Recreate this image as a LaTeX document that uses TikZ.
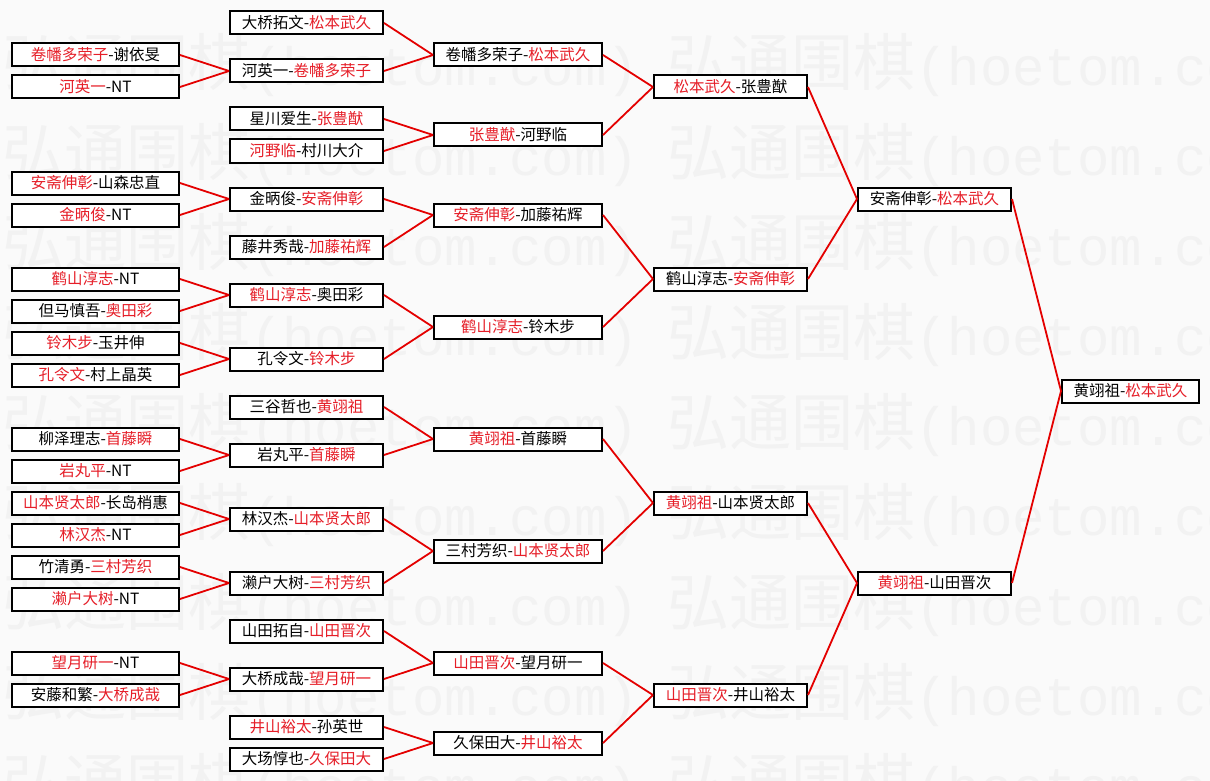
\documentclass[tikz,border=0pt]{standalone}
\usepackage{fontspec}
\setmainfont{Noto Sans CJK SC}
\newfontfamily\wmmono{Liberation Mono}
\definecolor{wred}{RGB}{230,30,40}
\definecolor{lred}{RGB}{228,0,0}
\definecolor{wmgray}{RGB}{242,242,242}
\definecolor{bgc}{RGB}{250,250,250}
\newcommand\rw[1]{\textcolor{wred}{#1}}
\begin{document}
\begin{tikzpicture}[x=1pt,y=-1pt,
  box/.style={draw=black, line width=2pt, fill=white, minimum height=23pt,
    inner sep=0pt, font=\fontsize{15.5}{17}\selectfont, text=black},
  wa/.style={box, minimum width=167pt},
  wb/.style={box, minimum width=153pt},
  wc/.style={box, minimum width=168pt},
  wf/.style={box, minimum width=137pt},
  link/.style={draw=lred, line width=1.8pt},
  wm/.style={anchor=west, inner sep=0pt, text=wmgray, font=\fontsize{62}{70}\selectfont}]
\fill[bgc] (0,0) rectangle (1210,781);
\useasboundingbox (0,0) rectangle (1210,781);
% watermark
\foreach \k in {0,...,8}{
  \node[wm] (wmA\k) at (2,{65+90*\k}) {弘通围棋{\wmmono\fontsize{54}{60}\selectfont(hoetom.com)}};
  \node[wm] (wmB\k) at (667,{65+90*\k}) {弘通围棋{\wmmono\fontsize{54}{60}\selectfont(hoetom.com)}};
}
% column 1
\node[wa] (a1)  at (95.5,55)  {\rw{卷幡多荣子}-谢依旻};
\node[wa] (a2)  at (95.5,87)  {\rw{河英一}-NT};
\node[wa] (a3)  at (95.5,183) {\rw{安斋伸彰}-山森忠直};
\node[wa] (a4)  at (95.5,215) {\rw{金昞俊}-NT};
\node[wa] (a5)  at (95.5,279) {\rw{鹤山淳志}-NT};
\node[wa] (a6)  at (95.5,311) {但马慎吾-\rw{奥田彩}};
\node[wa] (a7)  at (95.5,343) {\rw{铃木步}-玉井伸};
\node[wa] (a8)  at (95.5,375) {\rw{孔令文}-村上晶英};
\node[wa] (a9)  at (95.5,439) {柳泽理志-\rw{首藤瞬}};
\node[wa] (a10) at (95.5,471) {\rw{岩丸平}-NT};
\node[wa] (a11) at (95.5,503) {\rw{山本贤太郎}-长岛梢惠};
\node[wa] (a12) at (95.5,535) {\rw{林汉杰}-NT};
\node[wa] (a13) at (95.5,567) {竹清勇-\rw{三村芳织}};
\node[wa] (a14) at (95.5,599) {\rw{濑户大树}-NT};
\node[wa] (a15) at (95.5,663) {\rw{望月研一}-NT};
\node[wa] (a16) at (95.5,695) {安藤和繁-\rw{大桥成哉}};
% column 2
\node[wb] (b1)  at (306.5,23)  {大桥拓文-\rw{松本武久}};
\node[wb] (b2)  at (306.5,71)  {河英一-\rw{卷幡多荣子}};
\node[wb] (b3)  at (306.5,119) {星川爱生-\rw{张豊猷}};
\node[wb] (b4)  at (306.5,151) {\rw{河野临}-村川大介};
\node[wb] (b5)  at (306.5,199) {金昞俊-\rw{安斋伸彰}};
\node[wb] (b6)  at (306.5,247) {藤井秀哉-\rw{加藤祐辉}};
\node[wb] (b7)  at (306.5,295) {\rw{鹤山淳志}-奥田彩};
\node[wb] (b8)  at (306.5,359) {孔令文-\rw{铃木步}};
\node[wb] (b9)  at (306.5,407) {三谷哲也-\rw{黄翊祖}};
\node[wb] (b10) at (306.5,455) {岩丸平-\rw{首藤瞬}};
\node[wb] (b11) at (306.5,519) {林汉杰-\rw{山本贤太郎}};
\node[wb] (b12) at (306.5,583) {濑户大树-\rw{三村芳织}};
\node[wb] (b13) at (306.5,631) {山田拓自-\rw{山田晋次}};
\node[wb] (b14) at (306.5,679) {大桥成哉-\rw{望月研一}};
\node[wb] (b15) at (306.5,727) {\rw{井山裕太}-孙英世};
\node[wb] (b16) at (306.5,759) {大场惇也-\rw{久保田大}};
% column 3
\node[wc] (c1) at (518,55)  {卷幡多荣子-\rw{松本武久}};
\node[wc] (c2) at (518,135) {\rw{张豊猷}-河野临};
\node[wc] (c3) at (518,215) {\rw{安斋伸彰}-加藤祐辉};
\node[wc] (c4) at (518,327) {\rw{鹤山淳志}-铃木步};
\node[wc] (c5) at (518,439) {\rw{黄翊祖}-首藤瞬};
\node[wc] (c6) at (518,551) {三村芳织-\rw{山本贤太郎}};
\node[wc] (c7) at (518,663) {\rw{山田晋次}-望月研一};
\node[wc] (c8) at (518,743) {久保田大-\rw{井山裕太}};
% column 4
\node[wb] (d1) at (730.5,87)  {\rw{松本武久}-张豊猷};
\node[wb] (d2) at (730.5,279) {鹤山淳志-\rw{安斋伸彰}};
\node[wb] (d3) at (730.5,503) {\rw{黄翊祖}-山本贤太郎};
\node[wb] (d4) at (730.5,695) {\rw{山田晋次}-井山裕太};
% column 5
\node[wb] (e1) at (934.5,199) {安斋伸彰-\rw{松本武久}};
\node[wb] (e2) at (934.5,583) {\rw{黄翊祖}-山田晋次};
% final
\node[wf] (f) at (1130.5,391) {黄翊祖-\rw{松本武久}};
% links
\foreach \c/\p in {a1/b2,a2/b2,a3/b5,a4/b5,a5/b7,a6/b7,a7/b8,a8/b8,
  a9/b10,a10/b10,a11/b11,a12/b11,a13/b12,a14/b12,a15/b14,a16/b14,
  b1/c1,b2/c1,b3/c2,b4/c2,b5/c3,b6/c3,b7/c4,b8/c4,
  b9/c5,b10/c5,b11/c6,b12/c6,b13/c7,b14/c7,b15/c8,b16/c8,
  c1/d1,c2/d1,c3/d2,c4/d2,c5/d3,c6/d3,c7/d4,c8/d4,
  d1/e1,d2/e1,d3/e2,d4/e2,e1/f,e2/f}
  \draw[link] (\c.east) -- (\p.west);
\end{tikzpicture}
\end{document}
